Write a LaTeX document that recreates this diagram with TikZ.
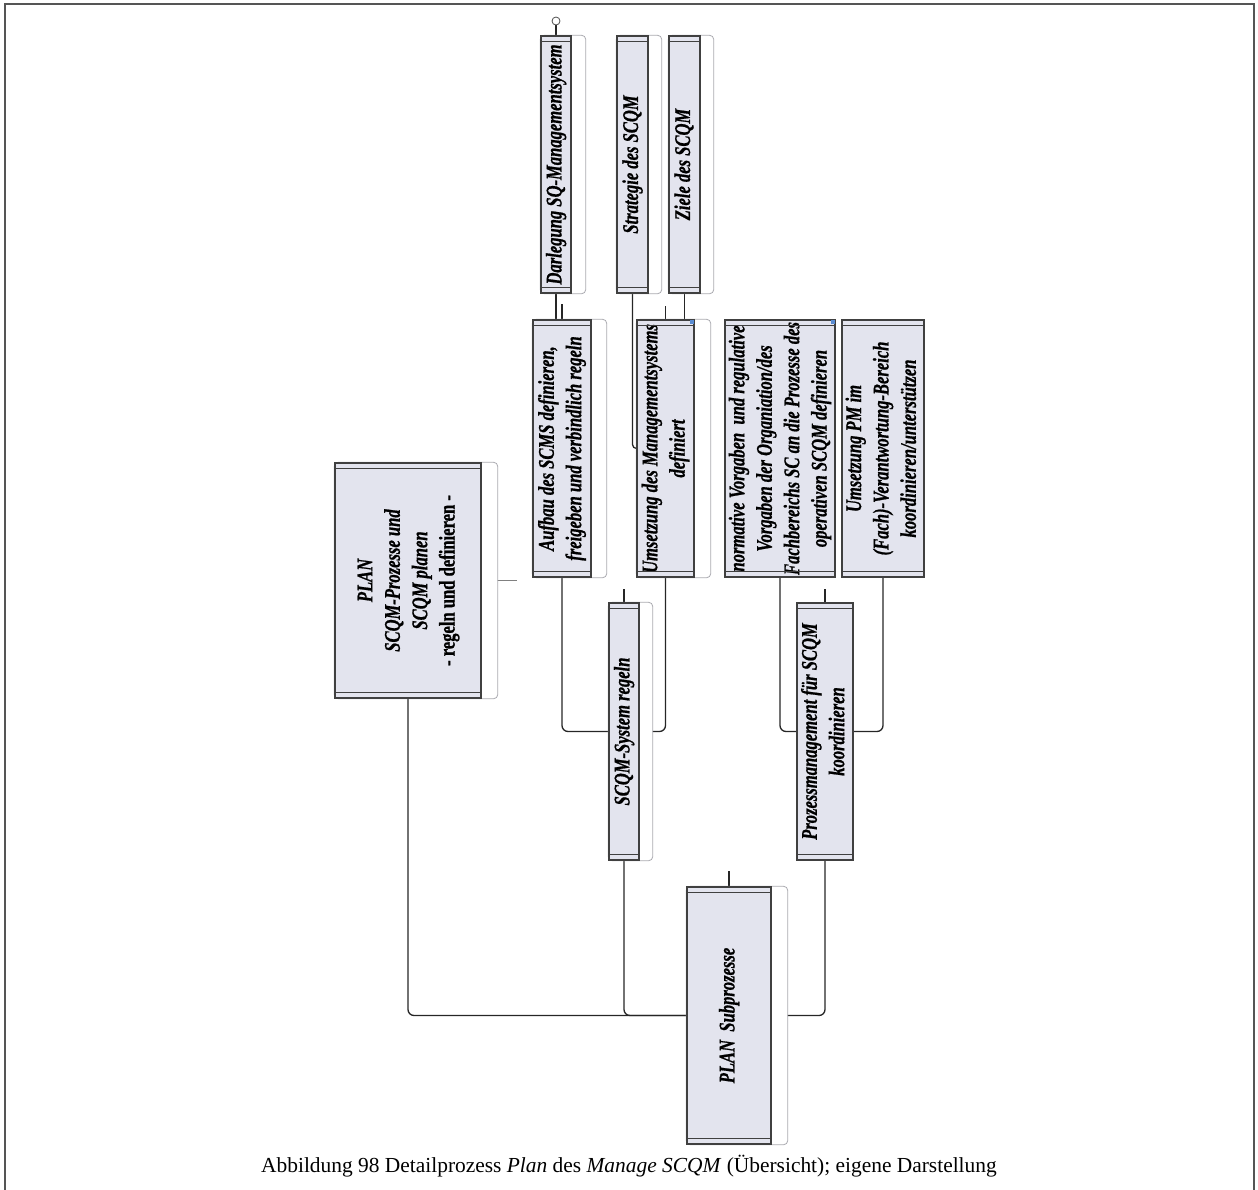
\documentclass[tikz,border=0pt]{standalone}
\usepackage{fontspec}
\setmainfont{Liberation Serif}
\newfontfamily\boxfont[FakeStretch=0.74,FakeBold=0.8]{Liberation Serif}
\usepackage{tikz}
\usetikzlibrary{calc,backgrounds}

\pgfdeclarelayer{edges}
\pgfdeclarelayer{tabs}
\pgfsetlayers{edges,tabs,main}

\definecolor{procfill}{RGB}{227,228,238}
\definecolor{procdraw}{RGB}{64,64,64}
\definecolor{tabdraw}{RGB}{170,170,176}
\definecolor{framegray}{RGB}{85,85,85}
\definecolor{markblue}{RGB}{90,140,210}

\newcommand{\vtext}[1]{\rotatebox{90}{\begin{tabular}{@{}c@{}}#1\end{tabular}}}

\begin{document}
\begin{tikzpicture}[x=1bp,y=-1bp,
    proc/.style={draw=procdraw,fill=procfill,line width=1.4bp,inner sep=0pt,
        font=\boxfont\fontsize{22.5}{27.5}\selectfont\bfseries\itshape},
    tab/.style={draw=tabdraw,fill=white,line width=0.8bp,rounded corners=4bp},
    link/.style={draw=black!85,line width=1.3bp,rounded corners=6bp},
    band/.style={draw=procdraw,line width=1bp},
]
    \useasboundingbox (0,0) rectangle (1258,1190);
    \draw[framegray,line width=2.5bp] (5,1190) -- (5,4) -- (1254,4) -- (1254,1190);

    % top row
    \node[proc,minimum width=30bp,minimum height=257bp] (darl) at (556,164.5) {\vtext{Darlegung SQ-Managementsystem}};
    \node[proc,minimum width=31bp,minimum height=257bp] (strat) at (632.5,164.5) {\vtext{Strategie des SCQM}};
    \node[proc,minimum width=31bp,minimum height=257bp] (ziele) at (684.5,164.5) {\vtext{Ziele des SCQM}};
    \node[draw=black!70,circle,minimum size=8bp,inner sep=0pt,line width=0.8bp] (dcirc) at (556,21) {};

    % second row
    \node[proc,minimum width=58bp,minimum height=257bp] (aufbau) at (562,448.5) {\vtext{Aufbau des SCMS definieren,\\freigeben und verbindlich regeln}};
    \node[proc,minimum width=57bp,minimum height=257bp] (umsetz) at (665.5,448.5) {\vtext{Umsetzung des Managementsystems\\definiert}};
    \node[proc,minimum width=110bp,minimum height=257bp] (norm) at (780,448.5) {\vtext{normative Vorgaben\ \ und regulative\\Vorgaben der Organiation/des\\Fachbereichs SC an die Prozesse des\\operativen SCQM definieren}};
    \node[proc,minimum width=82bp,minimum height=257bp] (pm) at (883,448.5) {\vtext{Umsetzung PM im\\(Fach)-Verantwortung-Bereich\\koordinieren/unterstützen}};

    % third row
    \node[proc,minimum width=30bp,minimum height=257bp] (sys) at (624,731.5) {\vtext{SCQM-System regeln}};
    \node[proc,minimum width=56bp,minimum height=257bp] (proz) at (825,731.5) {\vtext{Prozessmanagement für SCQM\\koordinieren}};
    \node[proc,minimum width=146bp,minimum height=235bp] (plan) at (408,580.5) {\vtext{PLAN\\SCQM-Prozesse und\\SCQM planen\\{\upshape - regeln und definieren -}}};

    % root
    \node[proc,minimum width=84bp,minimum height=257bp] (sub) at (729,1015.5) {\vtext{PLAN\ \ Subprozesse}};

    \foreach \n in {darl,strat,ziele,aufbau,umsetz,norm,pm,sys,proz,plan,sub}{
        \draw[band] ($(\n.north west)+(0,6)$) -- ($(\n.north east)+(0,6)$);
        \draw[band] ($(\n.south west)+(0,-6)$) -- ($(\n.south east)+(0,-6)$);
    }
    \fill[markblue] ($(umsetz.north east)+(-5,1)$) rectangle ++(4,4);
    \fill[markblue] ($(norm.north east)+(-5,1)$) rectangle ++(4,4);

    \begin{pgfonlayer}{tabs}
        \foreach \n/\w in {darl/14,strat/13,ziele/13,aufbau/15,umsetz/16,sys/13,plan/16,sub/16}
            \draw[tab] (\n.north west) rectangle ($(\n.south east)+(\w,0)$);
    \end{pgfonlayer}

    \begin{pgfonlayer}{edges}
        \draw[link] (dcirc) -- (darl);
        \draw[link] (darl) -- (darl |- aufbau);
        \draw[link] (ziele) -- (ziele |- umsetz);
        \draw[link,rounded corners=4bp] (strat) |- (umsetz);
        \draw[link] (aufbau) |- (sys);
        \draw[link] (umsetz) |- (sys);
        \draw[link] (norm) |- (proz);
        \draw[link] (pm) |- (proz);
        \draw[link] (plan) |- (sub);
        \draw[link] (sys) |- (sub);
        \draw[link] (proz) |- (sub);
        \draw[link] (aufbau.north) -- ++(0,-15);
        \draw[link] (umsetz.north) -- ++(0,-13);
        \draw[link] (sys.north) -- ++(0,-13);
        \draw[link] (proz.north) -- ++(0,-13);
        \draw[link] (sub.north) -- ++(0,-15);
        \draw[draw=black!50,line width=0.8bp] (plan.east) -- ++(35,0);
    \end{pgfonlayer}

    \node[font=\fontsize{21.5}{26}\selectfont] (caption) at (629,1166) {Abbildung 98 Detailprozess \textit{Plan} des \textit{Manage SCQM} (Übersicht); eigene Darstellung};
\end{tikzpicture}
\end{document}
